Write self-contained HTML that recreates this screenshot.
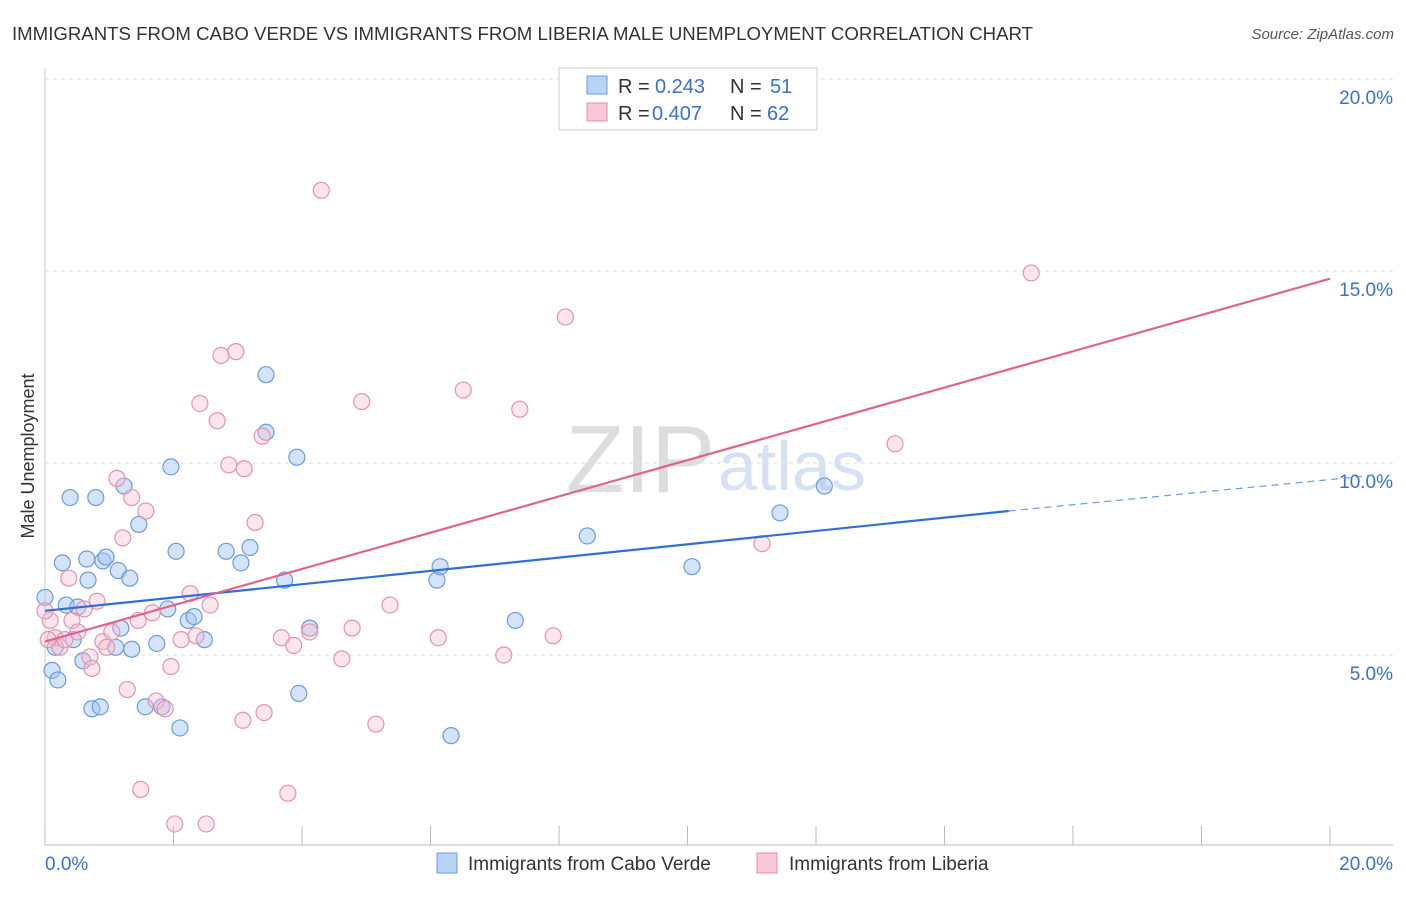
<!DOCTYPE html>
<html><head><meta charset="utf-8"><style>
body{margin:0;background:#fff;font-family:"Liberation Sans",sans-serif;}
svg text{font-family:"Liberation Sans",sans-serif;}
</style></head><body>
<svg id="chart" width="1406" height="892" viewBox="0 0 1406 892" xmlns="http://www.w3.org/2000/svg">
<text x="12" y="40" font-size="18" fill="#333" textLength="1021" lengthAdjust="spacingAndGlyphs">IMMIGRANTS FROM CABO VERDE VS IMMIGRANTS FROM LIBERIA MALE UNEMPLOYMENT CORRELATION CHART</text>
<text x="1394" y="39" font-size="15" fill="#555" font-style="italic" text-anchor="end">Source: ZipAtlas.com</text>
<text x="34" y="456" font-size="18" fill="#333" text-anchor="middle" transform="rotate(-90 34 456)">Male Unemployment</text>
<g id="grid"></g>
<text x="715" y="492" font-size="96" fill="#ddd" text-anchor="end" font-family="Liberation Serif">ZIP</text>
<text x="718" y="490" font-size="70" fill="#d6e2f3">atlas</text>
<g id="points"></g>
<g id="lines"></g>
<g>
<rect x="559" y="68" width="258" height="62" fill="#fff" stroke="#ccc"/>
<rect x="587" y="76" width="20" height="18" fill="#b7d3f5" stroke="#6b9be0"/>
<text x="618" y="93" font-size="20" fill="#333">R =</text>
<text x="655" y="93" font-size="20" fill="#3a6fd8">0.243</text>
<text x="730" y="93" font-size="20" fill="#333">N =</text>
<text x="770" y="93" font-size="20" fill="#3a6fd8">51</text>
<rect x="587" y="103" width="20" height="18" fill="#f9c8d6" stroke="#e88aa8"/>
<text x="618" y="120" font-size="20" fill="#333">R =</text>
<text x="652" y="120" font-size="20" fill="#3a6fd8">0.407</text>
<text x="730" y="120" font-size="20" fill="#333">N =</text>
<text x="767" y="120" font-size="20" fill="#3a6fd8">62</text>
</g>
<g>
<rect x="437" y="853" width="20" height="20" fill="#b7d3f5" stroke="#6b9be0"/>
<text x="468" y="870" font-size="19" fill="#333">Immigrants from Cabo Verde</text>
<rect x="757" y="853" width="20" height="20" fill="#f9c8d6" stroke="#e88aa8"/>
<text x="789" y="870" font-size="19" fill="#333">Immigrants from Liberia</text>
</g>
</svg>
<script>
const xTicks=[0,2,4,6,8,10,12,14,16,18,20];
const yTicks=[5,10,15,20];
const blueX=[0,0.11,0.2,0.16,0.27,0.33,0.39,0.44,0.51,0.59,0.65,0.67,0.73,0.79,0.86,0.9,0.95,1.1,1.14,1.18,1.23,1.32,1.35,1.46,1.56,1.74,1.82,1.91,1.96,2.04,2.1,2.23,2.32,2.48,2.82,3.05,3.19,3.44,3.44,3.73,3.92,3.95,4.12,6.1,6.15,6.32,7.32,8.44,10.07,11.44,12.13];
const blueY=[6.5,4.6,4.35,5.2,7.4,6.3,9.1,5.4,6.25,4.85,7.5,6.95,3.6,9.1,3.65,7.45,7.55,5.2,7.2,5.7,9.4,7.0,5.15,8.4,3.65,5.3,3.65,6.2,9.9,7.7,3.1,5.9,6.0,5.4,7.7,7.4,7.8,12.3,10.8,6.95,10.15,4.0,5.7,6.95,7.3,2.9,5.9,8.1,7.3,8.7,9.4];
const pinkX=[0.08,0.16,0.23,0.31,0.37,0.42,0.51,0.61,0.7,0.73,0.81,0.9,0.96,1.04,1.12,1.21,1.28,1.35,1.45,1.49,1.57,1.67,1.73,1.87,1.96,2.02,2.12,2.26,2.35,2.41,2.51,2.57,2.68,2.74,2.86,2.97,3.08,3.1,3.27,3.38,3.41,3.68,3.78,3.87,4.12,4.3,4.62,4.78,4.93,5.15,5.37,6.12,6.51,7.14,7.39,7.91,8.1,11.16,13.23,15.35,0,0.05];
const pinkY=[5.9,5.45,5.2,5.4,7.0,5.9,5.6,6.2,4.95,4.65,6.4,5.35,5.2,5.6,9.6,8.05,4.1,9.1,5.9,1.5,8.75,6.1,3.8,3.6,4.7,0.6,5.4,6.6,5.5,11.55,0.6,6.3,11.1,12.8,9.95,12.9,3.3,9.85,8.45,10.7,3.5,5.45,1.4,5.25,5.6,17.1,4.9,5.7,11.6,3.2,6.3,5.45,11.9,5.0,11.4,5.5,13.8,7.9,10.5,14.95,6.15,5.4];
const blueLine=[[0,6.15],[15,8.75]], blueDash=[[15,8.75],[20.8,9.7]];
const pinkLine=[[0,5.35],[20,14.8]];
const X=v=>45+v/20*1285, Y=v=>847-v*38.4;
const NS="http://www.w3.org/2000/svg";
function mk(tag,attrs,parent){const e=document.createElementNS(NS,tag);for(const k in attrs)e.setAttribute(k,attrs[k]);parent.appendChild(e);return e;}
const grid=document.getElementById('grid');
let ax=mk('line',{x1:45,x2:1393,y1:845,y2:845,stroke:'#bbb'},grid);


let ay=mk('line',{x1:45,x2:45,y1:68,y2:845,stroke:'#ccc'},grid);


xTicks.forEach(t=>{let l=mk('line',{x1:X(t),x2:X(t),y1:826,y2:845,stroke:'#bbb'},grid);

});
yTicks.forEach(t=>{let l=mk('line',{x1:45,x2:1393,y1:Y(t),y2:Y(t),stroke:'#ddd','stroke-dasharray':'4,4'},grid);


let tx=mk('text',{x:1393,y:Y(t)+25,'font-size':19,fill:'#3a6fd8','text-anchor':'end'},grid);tx.textContent=t.toFixed(1)+'%';

});
let x0=mk('text',{x:45,y:870,'font-size':19,fill:'#3a6fd8'},grid);x0.textContent='0.0%';


let x1=mk('text',{x:1393,y:870,'font-size':19,fill:'#3a6fd8','text-anchor':'end'},grid);x1.textContent='20.0%';


const pts=document.getElementById('points');
blueX.forEach((v,i)=>{let c=mk('circle',{cx:X(v),cy:Y(blueY[i]),r:8,fill:'rgba(160,196,240,0.45)',stroke:'#6b9be0','stroke-width':1.2},pts);

});
pinkX.forEach((v,i)=>{let c=mk('circle',{cx:X(v),cy:Y(pinkY[i]),r:8,fill:'rgba(248,190,208,0.4)',stroke:'#e892ae','stroke-width':1.2},pts);

});
const lg=document.getElementById('lines');
let bl=mk('line',{x1:X(blueLine[0][0]),y1:Y(blueLine[0][1]),x2:X(blueLine[1][0]),y2:Y(blueLine[1][1]),stroke:'#2f6fd6','stroke-width':2.2},lg);


let bd=mk('line',{x1:X(blueDash[0][0]),y1:Y(blueDash[0][1]),x2:X(blueDash[1][0]),y2:Y(blueDash[1][1]),stroke:'#6b9be0','stroke-width':1.2,'stroke-dasharray':'7,5'},lg);


let pl=mk('line',{x1:X(pinkLine[0][0]),y1:Y(pinkLine[0][1]),x2:X(pinkLine[1][0]),y2:Y(pinkLine[1][1]),stroke:'#e2638e','stroke-width':2.2},lg);


</script>
</body></html>
